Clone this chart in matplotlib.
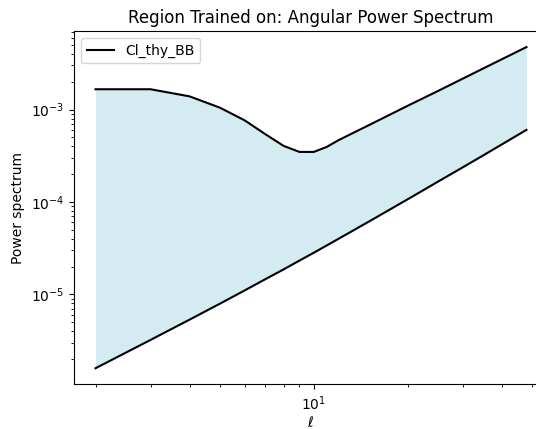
import numpy as np
import matplotlib; matplotlib.use('Agg')
import matplotlib.pyplot as plt

# multipoles and the two bounding spectra
ell = [2, 3, 4, 5, 6, 7, 8, 9, 10, 11, 12, 13, 15, 20, 25, 30, 35, 40, 48]
cl_upper = [1.66e-3, 1.66e-3, 1.39e-3, 1.05e-3, 7.66e-4, 5.41e-4, 4.05e-4,
            3.48e-4, 3.48e-4, 3.94e-4, 4.66e-4, 5.33e-4, 6.77e-4, 1.10e-3,
            1.59e-3, 2.16e-3, 2.80e-3, 3.50e-3, 4.75e-3]
cl_lower = [1.585e-6, 3.21e-6, 5.32e-6, 7.91e-6, 1.10e-5, 1.46e-5, 1.86e-5,
            2.32e-5, 2.82e-5, 3.38e-5, 3.99e-5, 4.65e-5, 6.12e-5, 1.07e-4,
            1.66e-4, 2.37e-4, 3.21e-4, 4.19e-4, 6.03e-4]

fig = plt.figure(figsize=(5.36, 4.29), dpi=100)
# the axes run past the right edge of the picture, as in the reference crop
ax = fig.add_axes([74/536, 1 - 384.3/429, 474/536, (384.3 - 31)/429])

ax.fill_between(ell, cl_lower, cl_upper, color='lightblue', alpha=0.5, linewidth=0)
ax.plot(ell, cl_upper, color='black', label='Cl_thy_BB')
ax.plot(ell, cl_lower, color='black')
ax.set_xscale('log')
ax.set_yscale('log')
ax.spines['right'].set_visible(False)

ax.set_xlabel(r'$\ell$', labelpad=1.5)
ax.set_ylabel('Power spectrum')
ax.set_title('Region Trained on: Angular Power Spectrum')
ax.legend(loc='upper left')

fig.savefig('out.png', dpi=100)
